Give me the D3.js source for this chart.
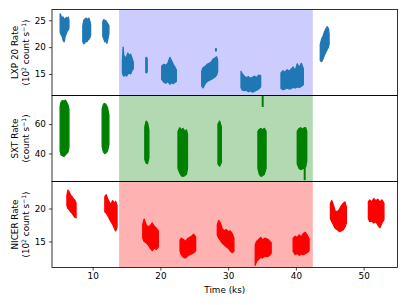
<!DOCTYPE html>
<html><head><meta charset="utf-8">
<script src="https://cdn.jsdelivr.net/npm/d3@7"></script>
<style>
body{margin:0;background:#fff;}
svg text{font-family:"DejaVu Sans",sans-serif;fill:#000;}
</style></head>
<body><svg id="c" width="407" height="305"></svg>
<script>
// ---- data: segments of [time ks, low, high] envelope ----
const xTicks = [10, 20, 30, 40, 50];
const shadeRange = [13.9, 42.5];

const lxpSegments = [
 [[5.2,22.8,26.2],[5.35,22.3,25.8],[5.5,22.0,25.4],[5.65,21.2,25.6],[5.8,21.0,25.0],[5.95,22.0,25.3],[6.1,22.5,25.5],[6.25,23.0,25.2],[6.4,23.2,25.6],[6.5,23.5,25.0]],
 [[8.55,21.0,24.0],[8.7,20.6,25.0],[8.85,20.8,25.2],[9.0,21.2,25.4],[9.15,21.0,25.3],[9.3,21.3,25.0],[9.45,21.5,25.4],[9.6,21.8,24.8],[9.7,22.2,24.2]],
 [[11.5,22.0,24.8],[11.65,21.5,25.1],[11.8,21.0,25.0],[11.95,21.2,24.9],[12.1,20.7,24.6],[12.25,21.5,24.3],[12.4,22.5,24.0]],
 [[14.4,15.2,17.5],[14.5,14.8,20.0],[14.6,14.6,18.5],[14.8,14.9,18.0],[15.0,14.6,18.2],[15.2,15.0,18.9],[15.4,15.2,18.4],[15.6,15.0,18.7],[15.8,15.6,18.0],[16.0,16.0,17.2]],
 [[17.85,15.3,18.0],[17.95,15.2,18.1],[18.05,15.4,17.8]],
 [[20.2,14.0,16.5],[20.5,13.5,16.8],[20.8,13.3,16.6],[21.1,13.6,17.0],[21.4,13.1,18.1],[21.6,13.4,17.6],[21.9,13.2,16.8],[22.1,13.4,16.4],[22.35,13.6,15.8]],
 [[26.1,12.8,15.5],[26.3,12.4,16.2],[26.6,13.2,16.4],[26.9,13.6,16.8],[27.2,13.8,17.0],[27.5,14.0,17.2],[27.8,14.2,17.8],[28.1,14.5,18.0],[28.3,14.8,18.2],[28.45,15.5,17.6]],
 [[28.15,19.3,19.7],[28.25,19.3,19.7]],
 [[31.9,12.5,15.5],[32.1,12.0,15.0],[32.4,11.9,14.6],[32.7,12.0,14.3],[33.0,11.7,14.5],[33.3,11.9,14.2],[33.6,11.6,14.4],[33.9,11.8,14.6],[34.2,12.0,14.3],[34.5,12.2,14.8],[34.8,12.6,14.7]],
 [[37.8,12.3,15.2],[38.1,12.1,15.6],[38.4,12.2,15.3],[38.7,12.4,15.8],[39.0,12.2,15.5],[39.3,12.3,15.9],[39.6,12.5,16.3],[39.9,12.4,15.6],[40.2,12.6,16.9],[40.5,12.5,16.2],[40.8,12.7,17.0],[41.1,13.0,16.0]],
 [[43.6,17.5,20.5],[43.8,17.3,21.5],[44.0,17.8,22.0],[44.2,18.5,22.8],[44.4,19.0,23.3],[44.6,19.5,23.8],[44.8,20.0,23.5],[44.9,20.5,22.5]]
];
const lxpTicks = [15, 20, 25];

const sxtSegments = [
 [[5.2,42,72],[5.35,39,75],[5.55,38.5,76],[5.75,38,75.5],[5.95,39,76.2],[6.15,40,75],[6.35,41,73],[6.5,44,70]],
 [[11.4,45,70],[11.6,41,73.5],[11.8,40,74],[12.0,40.5,73],[12.2,42,71],[12.4,46,66]],
 [[17.7,36,58],[17.9,33.5,62],[18.1,33.2,61],[18.3,37,56]],
 [[22.6,30,55],[22.85,27,57.5],[23.1,24.8,56],[23.35,24.5,57],[23.6,25,55],[23.85,26,56],[24.0,30,53]],
 [[28.5,33,60],[28.75,31.4,62],[29.0,34,58]],
 [[35.05,72,82],[35.15,72,82]],
 [[34.4,30,55],[34.6,26,56.5],[34.85,24.5,57],[35.1,25,56],[35.35,26,57.1],[35.6,30,55]],
 [[40.2,33,55],[40.45,30,57],[40.7,29.1,57.5],[40.95,29.5,56.5],[41.2,30,57.4],[41.45,31,57.5],[41.6,35,55]],
 [[41.25,22.3,30],[41.35,22.3,30]]
];
const sxtTicks = [40, 60];

const nicerSegments = [
 [[6.2,20.5,22.0],[6.35,20.0,22.8],[6.55,19.8,22.5],[6.75,19.5,22.0],[6.95,19.3,21.8],[7.15,19.0,21.5],[7.35,18.7,21.3],[7.55,18.6,20.8]],
 [[11.8,19.5,21.8],[12.0,19.3,22.1],[12.2,19.0,21.5],[12.45,18.5,21.0],[12.7,18.0,20.6],[12.95,17.6,21.2],[13.2,17.0,20.8],[13.4,16.6,21.1],[13.6,17.2,20.4]],
 [[17.4,15.5,17.6],[17.6,15.0,18.4],[17.9,14.8,17.5],[18.2,14.5,17.2],[18.5,14.0,17.4],[18.8,13.6,17.8],[19.1,14.0,17.3],[19.4,13.8,17.0],[19.7,14.2,16.6]],
 [[22.9,13.5,15.2],[23.1,13.0,15.5],[23.4,12.6,15.3],[23.7,12.5,15.0],[24.0,12.8,15.4],[24.3,13.0,15.6],[24.6,13.1,15.8],[24.9,13.3,16.1],[25.2,13.6,15.7]],
 [[28.4,16.0,17.5],[28.6,15.5,18.2],[28.85,15.2,17.8],[29.1,14.8,17.0],[29.4,14.5,16.6],[29.7,14.2,16.8],[30.0,14.0,16.5],[30.3,13.6,16.6],[30.6,13.3,16.2],[30.85,13.5,15.5]],
 [[34.0,11.4,14.5],[34.2,12.0,15.0],[34.5,12.3,15.3],[34.8,12.6,15.6],[35.1,12.5,15.2],[35.4,12.8,15.5],[35.7,12.7,15.4],[36.0,12.8,15.2],[36.35,13.2,14.8]],
 [[39.6,13.5,15.5],[39.9,13.0,15.8],[40.2,13.2,15.6],[40.5,12.9,16.0],[40.8,13.1,15.7],[41.1,13.0,16.2],[41.4,13.2,16.4],[41.7,13.3,15.9],[41.95,13.6,15.4]],
 [[45.1,18.5,20.8],[45.3,18.0,21.2],[45.55,17.5,20.5],[45.8,17.0,19.6],[46.1,16.8,19.5],[46.4,16.5,19.8],[46.7,16.6,20.4],[47.0,16.8,20.8],[47.25,17.2,21.0],[47.45,17.8,20.2]],
 [[50.7,18.5,21.0],[50.9,18.0,21.3],[51.2,18.1,21.0],[51.5,17.8,21.5],[51.8,18.0,21.2],[52.1,17.5,21.4],[52.4,17.1,21.0],[52.7,17.8,21.3],[53.0,18.3,20.8]]
];
const nicerTicks = [15, 20];

// ---- layout ----
const svg = d3.select("#c");
const L = 52, R = 397.5, T = 9.5, PH = 86;
const FS = 8.8;
const x = d3.scaleLinear().domain([4, 55]).range([L, R]);

const panels = [
 {segs: lxpSegments, ticks: lxpTicks, dom: [11, 27], color: "#1f77b4", shade: "rgba(0,0,255,0.2)", l1: "LXP 20 Rate", l2: ["(10","2"," count s","\u22121",")"]},
 {segs: sxtSegments, ticks: sxtTicks, dom: [21, 79.4], color: "#008000", shade: "rgba(0,128,0,0.3)", l1: "SXT Rate", l2: ["(count s","\u22121",")"]},
 {segs: nicerSegments, ticks: nicerTicks, dom: [11.05, 24.1], color: "#ff0000", shade: "rgba(255,0,0,0.3)", l1: "NICER Rate", l2: ["(10","2"," count s","\u22121",")"]}
];

panels.forEach((p, i) => {
  const top = T + i * PH, bot = top + PH;
  const y = d3.scaleLinear().domain(p.dom).range([bot, top]);
  const id = "clip" + i;
  svg.append("clipPath").attr("id", id).append("rect")
    .attr("x", L).attr("y", top).attr("width", R - L).attr("height", PH);
  const g = svg.append("g").attr("clip-path", `url(#${id})`);
  g.append("rect").attr("x", x(shadeRange[0])).attr("y", top)
    .attr("width", x(shadeRange[1]) - x(shadeRange[0])).attr("height", PH)
    .attr("fill", p.shade);
  const area = d3.area().x(d => x(d[0])).y0(d => y(d[1])).y1(d => y(d[2]));
  g.selectAll("path.seg").data(p.segs).join("path").attr("class", "seg")
    .attr("d", area).attr("fill", p.color).attr("stroke", p.color)
    .attr("stroke-width", 1.3).attr("stroke-linejoin", "round");

  // y axis
  const ya = svg.append("g").attr("transform", `translate(${L},0)`)
    .call(d3.axisLeft(y).tickValues(p.ticks).tickSize(3.1).tickPadding(3));
  ya.select(".domain").remove();
  ya.selectAll("line").attr("stroke", "#000").attr("stroke-width", 0.7);
  ya.selectAll("text").attr("font-size", FS).attr("font-family", "DejaVu Sans");

  // frame
  svg.append("rect").attr("x", L).attr("y", top).attr("width", R - L).attr("height", PH)
    .attr("fill", "none").attr("stroke", "#000").attr("stroke-width", 0.8);

  // y label
  const cy = (top + bot) / 2;
  svg.append("text").attr("transform", `translate(17.5,${cy}) rotate(-90)`)
    .attr("text-anchor", "middle").attr("font-size", FS).text(p.l1);
  const t2 = svg.append("text").attr("transform", `translate(28.5,${cy}) rotate(-90)`)
    .attr("text-anchor", "middle").attr("font-size", FS);
  p.l2.forEach((s, k) => {
    const sup = (s === "2" || s === "\u22121");
    t2.append("tspan").text(s)
      .attr("font-size", sup ? FS * 0.7 : FS)
      .attr("baseline-shift", sup ? "super" : null);
  });

  if (i === 2) {
    const xa = svg.append("g").attr("transform", `translate(0,${bot})`)
      .call(d3.axisBottom(x).tickValues(xTicks).tickSize(3.1).tickPadding(2.5));
    xa.select(".domain").remove();
    xa.selectAll("line").attr("stroke", "#000").attr("stroke-width", 0.7);
    xa.selectAll("text").attr("font-size", FS).attr("font-family", "DejaVu Sans");
    svg.append("text").attr("x", (L + R) / 2).attr("y", bot + 25.5)
      .attr("text-anchor", "middle").attr("font-size", FS).text("Time (ks)");
  }
});
</script></body></html>
